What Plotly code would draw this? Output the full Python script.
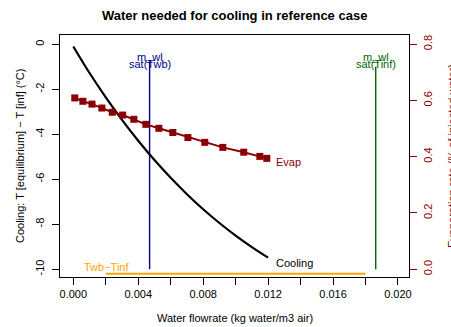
import plotly.graph_objects as go

# Cooling curve (left axis, degC)
cool_x = [0.0, 0.001, 0.002, 0.003, 0.004, 0.005, 0.006, 0.007, 0.008, 0.009, 0.010, 0.011, 0.012]
cool_y = [-0.1, -1.28, -2.36, -3.36, -4.29, -5.15, -5.94, -6.67, -7.34, -7.95, -8.51, -9.02, -9.49]

# Evaporation rate (right axis)
evap_x = [0.00009, 0.00059, 0.00115, 0.00176, 0.00240, 0.00304, 0.00373, 0.00447,
          0.00527, 0.00613, 0.00706, 0.00810, 0.00921, 0.01050, 0.01149, 0.01192]
evap_y = [0.609, 0.597, 0.587, 0.573, 0.558, 0.548, 0.533, 0.515,
          0.501, 0.486, 0.468, 0.451, 0.433, 0.416, 0.401, 0.394]

# Reference lines
mwl_sat_twb = 0.0047
mwl_sat_tinf = 0.01863
twb_tinf = -10.2
twb_x = [0.002, 0.018]

x_ticks = [0.000, 0.002, 0.004, 0.006, 0.008, 0.010, 0.012, 0.014, 0.016, 0.018, 0.020]
x_ticktext = ["0.000", "", "0.004", "", "0.008", "", "0.012", "", "0.016", "", "0.020"]
yl_ticks = [0, -2, -4, -6, -8, -10]
yr_ticks = [0.0, 0.2, 0.4, 0.6, 0.8]

FONT = "Liberation Sans, Arial, Helvetica, sans-serif"
DARKRED = "#8B0000"
DARKBLUE = "#00008B"
DARKGREEN = "#006400"
ORANGE = "#FFA500"

W, H = 451, 327
L, R, T, B = 60, 42, 35, 50
pw, ph = W - L - R, H - T - B


def px2paper(px, py):
    return (px - L) / pw, (H - B - py) / ph


fig = go.Figure()

fig.add_trace(go.Scatter(x=twb_x, y=[twb_tinf, twb_tinf], mode="lines",
                         line=dict(color=ORANGE, width=2), showlegend=False))
fig.add_trace(go.Scatter(x=[mwl_sat_twb, mwl_sat_twb], y=[-10, -0.7], mode="lines",
                         line=dict(color=DARKBLUE, width=1.4), showlegend=False))
fig.add_trace(go.Scatter(x=[mwl_sat_tinf, mwl_sat_tinf], y=[-10, -1.0], mode="lines",
                         line=dict(color=DARKGREEN, width=1.4), showlegend=False))
fig.add_trace(go.Scatter(x=cool_x, y=cool_y, mode="lines", line_shape="spline",
                         line=dict(color="black", width=2.2), showlegend=False))
fig.add_trace(go.Scatter(x=evap_x, y=evap_y, mode="lines+markers", yaxis="y2",
                         line=dict(color=DARKRED, width=2),
                         marker=dict(symbol="square", size=7, color=DARKRED),
                         showlegend=False))

anns = []


def txt(x, y, s, color, xanchor="center", size=11):
    anns.append(dict(x=x, y=y, xref="x", yref="y", text=s, showarrow=False,
                     xanchor=xanchor, yanchor="middle",
                     font=dict(family=FONT, size=size, color=color)))


def ptxt(px, py, s, color="black", size=11, angle=0):
    x, y = px2paper(px, py)
    anns.append(dict(x=x, y=y, xref="paper", yref="paper", text=s, showarrow=False,
                     xanchor="center", yanchor="middle", textangle=angle,
                     font=dict(family=FONT, size=size, color=color)))


txt(mwl_sat_twb, -0.57, "m_wl", DARKBLUE)
txt(mwl_sat_twb, -0.9, "sat(Twb)", DARKBLUE)
txt(mwl_sat_tinf, -0.57, "m_wl", DARKGREEN)
txt(mwl_sat_tinf, -0.9, "sat(Tinf)", DARKGREEN)
txt(0.00207, -9.92, "Twb\u2212Tinf", ORANGE)
txt(0.01235, -5.22, "Evap", DARKRED, xanchor="left")
txt(0.01235, -9.73, "Cooling", "black", xanchor="left")

ptxt(234, 15.7, "<b>Water needed for cooling in reference case</b>", size=13)
ptxt(235, 318, "Water flowrate (kg water/m3 air)")
ptxt(20, 156, "Cooling: T [equilibrium] \u2212 T [inf] (\u00b0C)", angle=-90)
ptxt(452, 156, "Evaporation rate (% of injected water)", color=DARKRED, angle=-90)

fig.update_layout(
    annotations=anns,
    width=W, height=H,
    margin=dict(l=L, r=R, t=T, b=B, pad=0),
    paper_bgcolor="white", plot_bgcolor="white",
    font=dict(family=FONT, size=11, color="black"),
    xaxis=dict(range=[-0.00082, 0.02068], tickvals=x_ticks, ticktext=x_ticktext,
               ticks="outside", ticklen=7, tickcolor="black", showgrid=False, zeroline=False,
               showline=True, linecolor="black", linewidth=1, mirror=True,
               tickfont=dict(family=FONT, size=11, color="black")),
    yaxis=dict(range=[-10.35, 0.41], tickvals=yl_ticks, ticktext=[str(v) for v in yl_ticks],
               ticks="outside", ticklen=7, tickcolor="black", showgrid=False, zeroline=False,
               showline=True, linecolor="black", linewidth=1, mirror=True, tickangle=-90,
               ticklabelstandoff=4,
               tickfont=dict(family=FONT, size=11, color="black")),
    yaxis2=dict(range=[-0.028, 0.8328], overlaying="y", side="right", tickvals=yr_ticks,
                ticktext=["0.0", "0.2", "0.4", "0.6", "0.8"],
                ticks="outside", ticklen=7, tickcolor=DARKRED, showgrid=False, zeroline=False,
                showline=False, tickangle=-90, ticklabelstandoff=2,
                tickfont=dict(family=FONT, size=11, color=DARKRED)),
)

fig.write_html("out.html", config={"displayModeBar": False},
               post_script="document.body.style.margin='0';document.body.style.overflow='hidden';")
